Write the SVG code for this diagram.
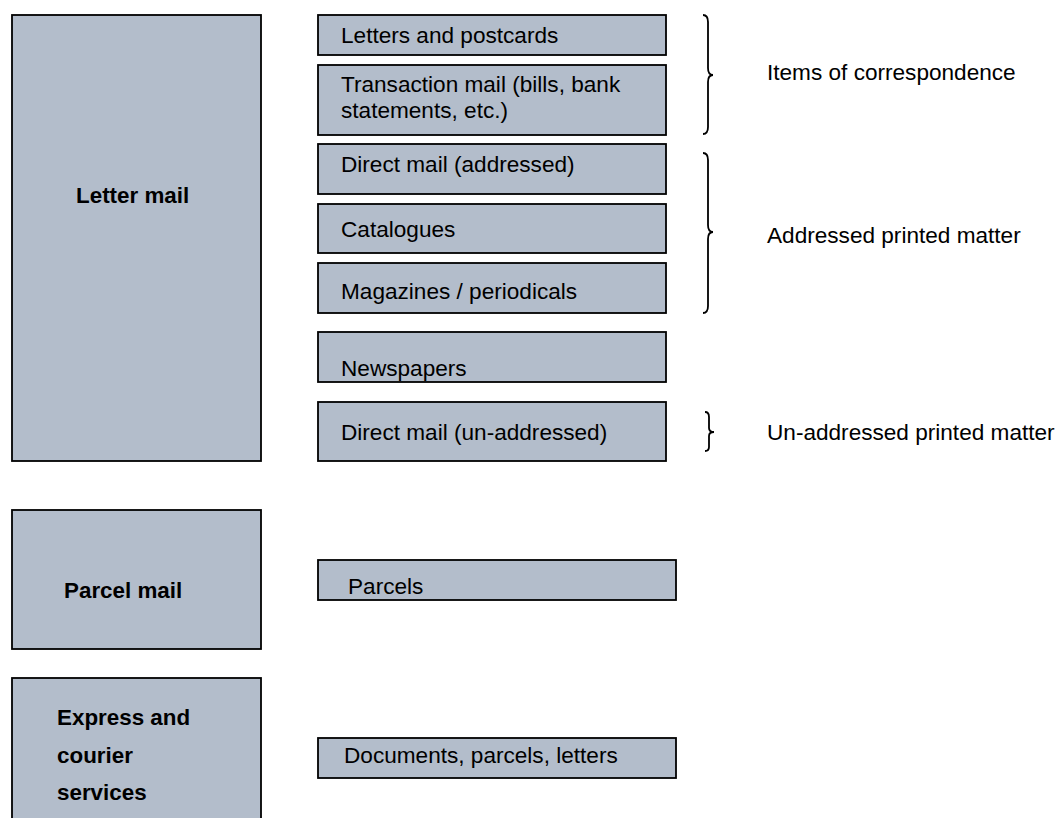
<svg xmlns="http://www.w3.org/2000/svg" width="1057" height="818" viewBox="0 0 1057 818">
<style>
.box{fill:#b3bdcb;stroke:#000;stroke-width:1.8}
.t{font-family:"Liberation Sans",Arial,sans-serif;font-size:22.6px;fill:#000}
.b{font-weight:bold;font-size:22.4px}
.brace{fill:none;stroke:#000;stroke-width:1.8}
</style>
<rect width="1057" height="818" fill="#fff"/>
<g id="letter-mail"><rect class="box" x="12" y="15" width="249" height="446"/><text class="t b" x="76" y="203">Letter mail</text></g>
<g id="parcel-mail"><rect class="box" x="12" y="510" width="249" height="139"/><text class="t b" x="64" y="598">Parcel mail</text></g>
<g id="express"><rect class="box" x="12" y="678" width="249" height="150"/><text class="t b" x="57" y="725">Express and</text><text class="t b" x="57" y="763">courier</text><text class="t b" x="57" y="800">services</text></g>
<g id="letters-postcards"><rect class="box" x="318" y="15" width="348" height="40"/><text class="t" x="341" y="43">Letters and postcards</text></g>
<g id="transaction"><rect class="box" x="318" y="65" width="348" height="70"/><text class="t" x="341" y="92">Transaction mail (bills, bank</text><text class="t" x="341" y="118">statements, etc.)</text></g>
<g id="direct-addressed"><rect class="box" x="318" y="144" width="348" height="50"/><text class="t" x="341" y="172">Direct mail (addressed)</text></g>
<g id="catalogues"><rect class="box" x="318" y="204" width="348" height="49"/><text class="t" x="341" y="237">Catalogues</text></g>
<g id="magazines"><rect class="box" x="318" y="263" width="348" height="50"/><text class="t" x="341" y="299">Magazines / periodicals</text></g>
<g id="newspapers"><rect class="box" x="318" y="332" width="348" height="50"/><text class="t" x="341" y="376">Newspapers</text></g>
<g id="direct-unaddressed"><rect class="box" x="318" y="402" width="348" height="59"/><text class="t" x="341" y="440">Direct mail (un-addressed)</text></g>
<g id="parcels"><rect class="box" x="318" y="560" width="358" height="40"/><text class="t" x="348" y="594">Parcels</text></g>
<g id="documents"><rect class="box" x="318" y="738" width="358" height="40"/><text class="t" x="344" y="763">Documents, parcels, letters</text></g>
<g id="connectors">
<path class="brace" d="M703,15 Q708,15 708,22 L708,68 Q708,75 713,75 Q708,75 708,82 L708,127 Q708,134 703,134"/>
<path class="brace" d="M703,153 Q708,153 708,160 L708,225 Q708,232 713,232 Q708,232 708,239 L708,306 Q708,313 703,313"/>
<path class="brace" d="M705,412 Q709,412 709,417 L709,428 Q709,432 714,432 Q709,432 709,436 L709,447 Q709,451 705,451"/>
</g>
<g id="labels">
<text class="t" x="767" y="80">Items of correspondence</text>
<text class="t" x="767" y="243">Addressed printed matter</text>
<text class="t" x="767" y="440">Un-addressed printed matter</text>
</g>
</svg>
